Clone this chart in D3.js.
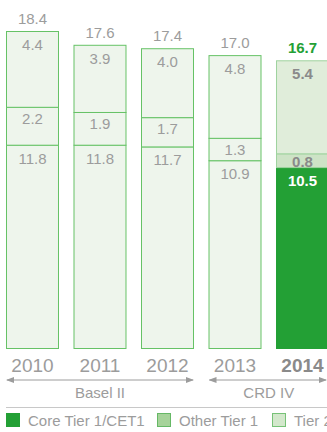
<!DOCTYPE html>
<html>
<head>
<meta charset="utf-8">
<script src="https://cdn.jsdelivr.net/npm/d3@7"></script>
<style>
  body { margin: 0; background: #fff; }
  text { font-family: "Liberation Sans", Arial, sans-serif; }
</style>
</head>
<body>
<svg id="chart"></svg>
<script>
// data
const years = ["2010", "2011", "2012", "2013", "2014"];
const coreTier1 = [11.8, 11.8, 11.7, 10.9, 10.5];
const otherTier1 = [2.2, 1.9, 1.7, 1.3, 0.8];
const tier2 = [4.4, 3.9, 4.0, 4.8, 5.4];
const totals = [18.4, 17.6, 17.4, 17.0, 16.7];
const regimes = [
  { name: "Basel II", from: "2010", to: "2012" },
  { name: "CRD IV", from: "2013", to: "2014" }
];
const legendItems = ["Core Tier 1/CET1", "Other Tier 1", "Tier 2"];

const width = 327, height = 432;
const svg = d3.select('#chart').attr('width', width).attr('height', height);

const baseY = 348;
const x = d3.scaleBand().domain(years).range([6, 329]).paddingInner(0.215);
const y = d3.scaleLinear().domain([0, 18.4]).range([baseY, 31]);

const green = "#23a035";
const gray = "#9c9c9c";
const lightFill = "#eef5ec";
const lightStroke = "#66c266";
const fill2014 = { core: green, other: "#cde3c6", t2: "#e0edda" };

const keys = ["core", "other", "t2"];
const rows = years.map((yr, i) => ({ year: yr, core: coreTier1[i], other: otherTier1[i], t2: tier2[i], total: totals[i] }));
const stack = d3.stack().keys(keys)(rows);

const g = svg.append('g');
stack.forEach(layer => {
  layer.forEach((d, i) => {
    const yr = years[i];
    const last = yr === "2014";
    const key = layer.key;
    const h = y(d[0]) - y(d[1]);
    g.append('rect')
      .attr('x', x(yr) + 0.5)
      .attr('y', y(d[1]) + 0.5)
      .attr('width', x.bandwidth() - 1)
      .attr('height', h)
      .attr('fill', last ? fill2014[key] : lightFill)
      .attr('stroke', last ? (key === "core" ? green : "#9fd39f") : lightStroke)
      .attr('stroke-width', 1);
    const val = d.data[key];
    g.append('text')
      .attr('x', x(yr) + x.bandwidth() / 2)
      .attr('y', y(d[1]) + Math.min(key === "other" ? 17 : 19, h - 0.5))
      .attr('text-anchor', 'middle')
      .attr('font-size', 15)
      .attr('font-weight', last ? 'bold' : 'normal')
      .attr('fill', last ? (key === "core" ? "#fff" : "#8a8a8a") : gray)
      .text(val.toFixed(1));
  });
});

// totals
rows.forEach(d => {
  const last = d.year === "2014";
  g.append('text')
    .attr('x', x(d.year) + x.bandwidth() / 2)
    .attr('y', y(d.total) - 7)
    .attr('text-anchor', 'middle')
    .attr('font-size', 15)
    .attr('font-weight', last ? 'bold' : 'normal')
    .attr('fill', last ? green : gray)
    .text(d.total.toFixed(1));
});

// year labels
years.forEach(yr => {
  const last = yr === "2014";
  svg.append('text')
    .attr('x', x(yr) + x.bandwidth() / 2)
    .attr('y', 372)
    .attr('text-anchor', 'middle')
    .attr('font-size', 19)
    .attr('font-weight', last ? 'bold' : 'normal')
    .attr('fill', last ? "#8a8a8a" : gray)
    .text(yr);
});

// regime arrows
const defs = svg.append('defs');
defs.append('marker').attr('id', 'ah').attr('viewBox', '0 0 8 8').attr('refX', 7).attr('refY', 4)
  .attr('markerWidth', 8).attr('markerHeight', 8).attr('orient', 'auto-start-reverse')
  .append('path').attr('d', 'M0,1 L8,4 L0,7 Z').attr('fill', gray);

regimes.forEach(r => {
  const x0 = x(r.from) + 1;
  const x1 = Math.min(x(r.to) + x.bandwidth(), width) - 1;
  svg.append('line')
    .attr('x1', x0).attr('x2', x1).attr('y1', 380).attr('y2', 380)
    .attr('stroke', gray).attr('stroke-width', 1)
    .attr('marker-start', 'url(#ah)').attr('marker-end', 'url(#ah)');
  svg.append('text')
    .attr('x', (x(r.from) + x(r.to) + x.bandwidth()) / 2)
    .attr('y', 398)
    .attr('text-anchor', 'middle')
    .attr('font-size', 15)
    .attr('fill', gray)
    .text(r.name);
});

svg.append('line').attr('x1', 6).attr('x2', width).attr('y1', 407.5).attr('y2', 407.5)
  .attr('stroke', '#c8c8c8').attr('stroke-width', 1);

// legend
const legX = [6, 157, 272];
const legFill = [green, "#a6d39a", "#d3e8cc"];
const legStroke = [green, "#66b866", "#77c277"];
legendItems.forEach((name, i) => {
  svg.append('rect').attr('x', legX[i] + 0.5).attr('y', 413.5).attr('width', 13).attr('height', 13)
    .attr('fill', legFill[i]).attr('stroke', legStroke[i]);
  svg.append('text').attr('x', legX[i] + 22).attr('y', 426)
    .attr('font-size', 15).attr('fill', gray).text(name);
});
</script>
</body>
</html>
